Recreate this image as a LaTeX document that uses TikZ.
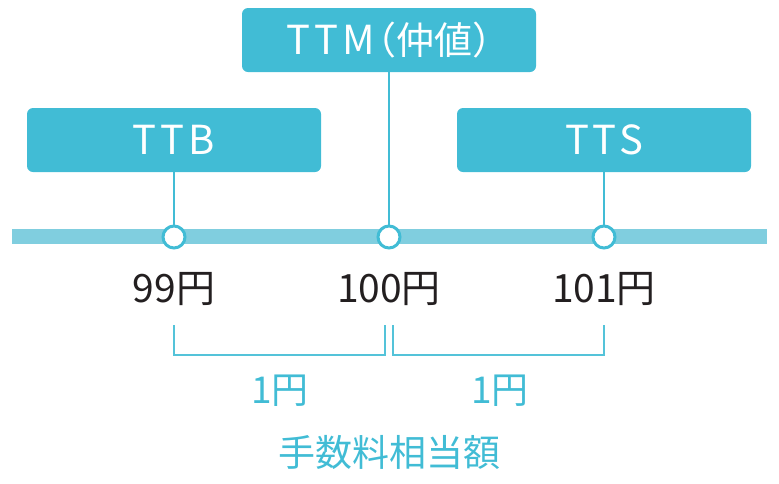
\documentclass[tikz,border=0pt]{standalone}
\usepackage{fontspec}
\setmainfont{Noto Sans CJK JP}
\usetikzlibrary{positioning}
\definecolor{boxblue}{HTML}{41BCD5}
\definecolor{barblue}{HTML}{80CEDF}
\definecolor{pricegray}{HTML}{231F20}
\newcommand{\wide}[1]{{\addfontfeatures{LetterSpace=10}#1}}

\begin{document}
\begin{tikzpicture}[x=1pt, y=-1pt,
  rate/.style={fill=boxblue, rounded corners=6pt, minimum width=294pt, minimum height=64pt, text=white, font=\fontsize{40}{42}\selectfont},
  tick/.style={circle, draw=boxblue, line width=3pt, fill=white, minimum size=22pt, inner sep=0pt},
  price/.style={text=pricegray, font=\fontsize{39}{40}\selectfont},
  fee/.style={text=boxblue, font=\fontsize{37}{40}\selectfont},
  stem/.style={boxblue, line width=2pt},
  brace/.style={boxblue!90, line width=1.5pt}]
  \useasboundingbox (0, 0) rectangle (779, 483);
  % the rate line
  \draw[barblue, line width=15pt] (12, 236.5)--(767, 236.5);
  \node (ttb) at (174, 140) [rate] {\wide{TTB}};
  \node (ttm) at (389, 40) [rate] {\wide{TTM}\kern3pt{\fontsize{38}{40}\selectfont\addfontfeatures{RawFeature=+halt}（仲値）}};
  \node (tts) at (604, 140) [rate] {\wide{TTS}};
  \node (p99) at (174, 237) [tick] {};
  \node (p100) at (389, 237) [tick] {};
  \node (p101) at (604, 237) [tick] {};
  \draw[stem] (ttb)--(p99);
  \draw[stem] (ttm)--(p100);
  \draw[stem] (tts)--(p101);
  \node (l99) at (174, 289) [price] {99円};
  \node (l100) at (389, 289) [price] {100円};
  \node (l101) at (604, 289) [price] {101円};
  % the two spreads
  \draw[brace] (174, 325)--(174, 355)--(385, 355)--(385, 325);
  \draw[brace] (393, 325)--(393, 355)--(604, 355)--(604, 325);
  \node (fb) at (280, 391) [fee] {1円};
  \node (fs) at (500, 391) [fee] {1円};
  \node (fee) at (389, 452) [fee] {手数料相当額};
\end{tikzpicture}
\end{document}
